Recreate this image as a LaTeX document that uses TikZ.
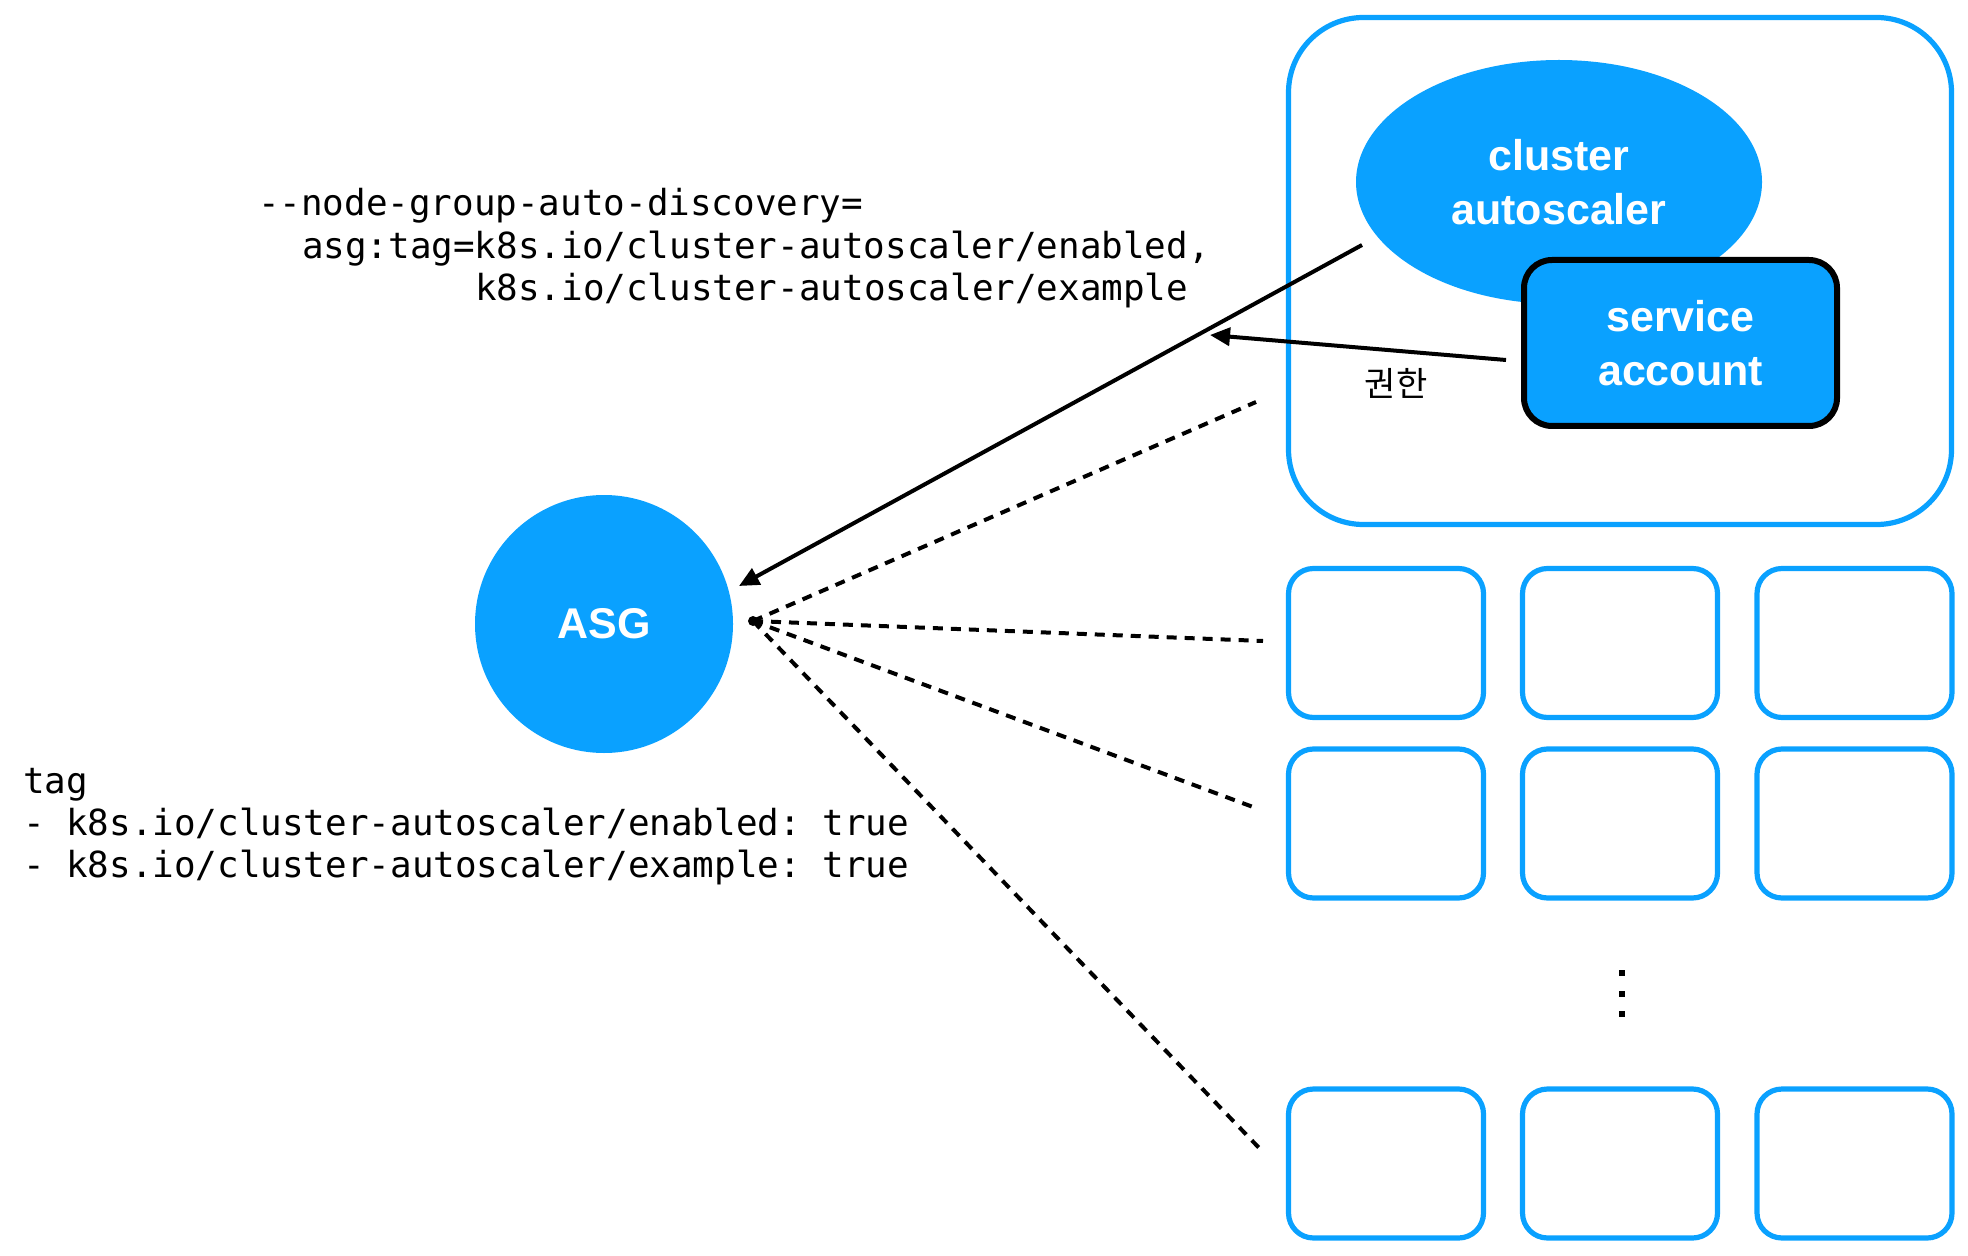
\documentclass[tikz,border=0pt]{standalone}
\usepackage{fontspec}
\setmainfont{Liberation Sans}
\newfontfamily\monofont{DejaVu Sans Mono}
\newfontfamily\krfont{Noto Sans CJK KR}
\usetikzlibrary{arrows.meta,shapes.geometric}
\definecolor{awsblue}{RGB}{10,161,255}
\begin{document}
\frenchspacing
\begin{tikzpicture}[x=0.5pt,y=-0.5pt,
  lbl/.style={text=white,font=\fontsize{21.5}{27}\selectfont\bfseries,align=center,inner sep=0pt,outer sep=0pt},
  nodebox/.style={draw=awsblue,line width=2.6pt,rounded corners=12.5pt,minimum width=97.5pt,minimum height=74.5pt,inner sep=0pt,outer sep=0pt},
  code/.style={font=\monofont\fontsize{17.95}{21}\selectfont,anchor=base west,inner sep=0pt,outer sep=0pt},
  conn/.style={line width=2pt,-{Triangle[length=10pt,width=9pt]}},
  dotline/.style={line width=2pt,dash pattern=on 5pt off 4pt}
]
\useasboundingbox (0,0) rectangle (1968,1256);

% cluster container
\node[draw=awsblue,line width=2.6pt,rounded corners=37.5pt,minimum width=331.5pt,minimum height=253.5pt,inner sep=0pt] (cluster) at (1620,271) {};

\node[ellipse,fill=awsblue,minimum width=203pt,minimum height=122pt,inner sep=0pt,lbl] (ca) at (1559,182) {cluster\\autoscaler};

\node[rectangle,fill=awsblue,draw=black,line width=3pt,rounded corners=14pt,minimum width=156.5pt,minimum height=83pt,lbl] (sa) at (1680.5,343) {service\\account};

\node[circle,fill=awsblue,minimum size=129pt,inner sep=0pt,lbl] (asg) at (604,624) {ASG};

% worker node boxes
\node[nodebox] (n11) at (1386,643) {};
\node[nodebox] (n12) at (1620,643) {};
\node[nodebox] (n13) at (1854.5,643) {};
\node[nodebox] (n21) at (1386,823.5) {};
\node[nodebox] (n22) at (1620,823.5) {};
\node[nodebox] (n23) at (1854.5,823.5) {};
\node[nodebox] (n31) at (1386,1163.5) {};
\node[nodebox] (n32) at (1620,1163.5) {};
\node[nodebox] (n33) at (1854.5,1163.5) {};

% vertical ellipsis
\fill (1619,970) rectangle (1625,976);
\fill (1619,991) rectangle (1625,997);
\fill (1619,1011) rectangle (1625,1017);

% texts
\node[code] (arg1) at (258,216) {-{}-node-group-auto-discovery=};
\node[code] (arg2) at (302,258.5) {asg:tag=k8s.io/cluster-autoscaler/enabled,};
\node[code] (arg3) at (475,301) {k8s.io/cluster-autoscaler/example};

\node[code] (tag1) at (23,793) {tag};
\node[code] (tag2) at (23,835) {- k8s.io/cluster-autoscaler/enabled: true};
\node[code] (tag3) at (23,877) {- k8s.io/cluster-autoscaler/example: true};

\node[font=\krfont\fontsize{17}{20}\selectfont,inner sep=0pt] (perm) at (1396,383) {권한};

% connectors
\coordinate (caout) at (1362,245);
\coordinate (asgin) at (739,586);
\coordinate (saout) at (1506,360);
\coordinate (permin) at (1210,335);
\draw[conn] (caout) -- (asgin);
\draw[conn] (saout) -- (permin);

\coordinate (fan) at (753,621);
\coordinate (f1) at (1256,402);
\coordinate (f2) at (1263,641);
\coordinate (f3) at (1253,807);
\coordinate (f4) at (1263,1152);
\draw[dotline] (fan) -- (f1);
\draw[dotline] (fan) -- (f2);
\draw[dotline] (fan) -- (f3);
\draw[dotline] (fan) -- (f4);
\fill (fan) circle (5);
\end{tikzpicture}
\end{document}
